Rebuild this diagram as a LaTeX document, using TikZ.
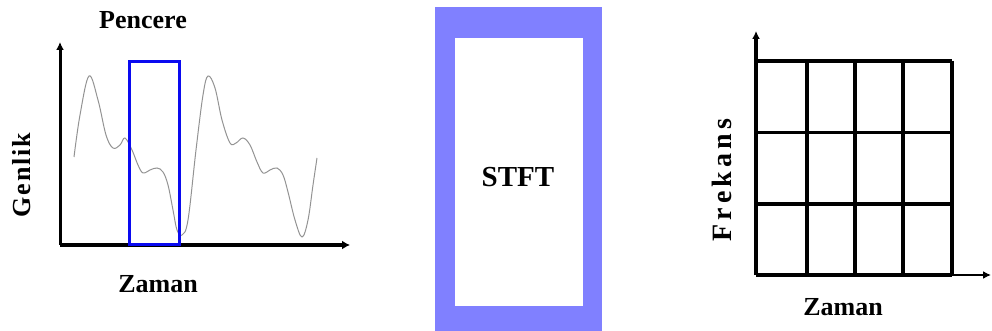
\documentclass[tikz,border=0pt]{standalone}
\usepackage{fontspec}
\setmainfont{Liberation Serif}
\newfontfamily\genlikfont[LetterSpace=7]{Liberation Serif}
\newfontfamily\frekansfont[LetterSpace=15]{Liberation Serif}
\usetikzlibrary{arrows.meta}
\definecolor{stftblue}{RGB}{128,128,255}
\definecolor{winblue}{RGB}{10,10,240}
\tikzset{
  lbl/.style={font=\fontsize{26}{26}\selectfont\bfseries, inner sep=0pt},
  gridline/.style={line width=3.5pt},
  signal/.style={gray!85, line width=1pt},
}
\begin{document}
\begin{tikzpicture}[x=1pt,y=-1pt]
\useasboundingbox (0,0) rectangle (992,331);
% ---- left panel ----
\coordinate (lo) at (60,245);
\coordinate (ly) at (60,42);
\coordinate (lx) at (350,245);
\draw[signal] plot[smooth, tension=0.6] coordinates {
 (74,157) (80,115) (89,76) (98,100) (106,135) (113,148) (120,145) (125,138)
 (132,150) (138,165) (143,173) (150,170) (157,168) (163,172) (168,185) (173,210)
 (177,230) (182,235) (188,220) (196,150) (203,95) (208,76) (215,88) (222,120)
 (230,143) (236,143) (243,138) (250,145) (257,162) (263,173) (270,170) (277,168)
 (283,175) (288,192) (295,220) (302,237) (308,220) (313,185) (317,158)};
\draw[line width=3pt, -{Latex[length=8pt,width=8pt]}] (lo) -- (ly);
\draw[line width=4pt, -{Latex[length=8pt,width=9pt]}] (lo) -- (lx);
\node[draw=winblue, line width=3pt, minimum width=50pt, minimum height=183pt, anchor=north west, inner sep=0pt] (win) at (128,60) {};
\node[lbl] (pencere) at (143,20) {Pencere};
\node[lbl, rotate=90] (genlik) at (22,175) {{\genlikfont Genlik}};
\node[lbl] (zaman1) at (158,284) {Zaman};
% ---- middle ----
\fill[stftblue] (435,7) rectangle (602,331);
\fill[white] (455,38) rectangle (583,306);
\node[font=\fontsize{29}{29}\selectfont\bfseries, inner sep=0pt] (stft) at (518,177) {STFT};
% ---- right panel ----
\coordinate (ro) at (756,275);
\coordinate (ry) at (756,31);
\coordinate (rx) at (991,275);
\draw[line width=2pt, -{Latex[length=8pt,width=8pt]}] (ro) -- (rx);
\draw[line width=3.5pt, -{Latex[length=8pt,width=8pt]}] (ro) -- (ry);
\foreach \x in {756,807,855,903,952} \draw[gridline] (\x,61) -- (\x,275);
\foreach \y in {61,204,275} \draw[gridline] (756,\y) -- (952,\y);
\draw[line width=3pt] (756,133) -- (952,133);
\node[font=\fontsize{28}{28}\selectfont\bfseries, inner sep=0pt, rotate=90] (frekans) at (722,180) {{\frekansfont Frekans}};
\node[lbl] (zaman2) at (843,307) {Zaman};
\end{tikzpicture}
\end{document}
